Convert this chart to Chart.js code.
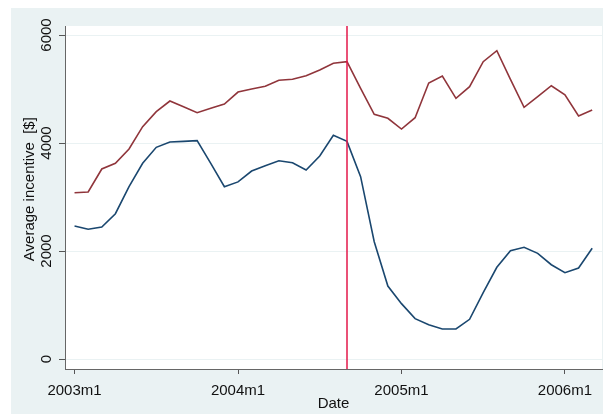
<!DOCTYPE html>
<html>
<head>
<meta charset="utf-8">
<script src="https://cdn.jsdelivr.net/npm/chart.js@4.4.1/dist/chart.umd.min.js"></script>
<style>
  html, body { margin: 0; padding: 0; background: #ffffff; }
  canvas { display: block; }
</style>
</head>
<body>
<canvas id="c" width="604" height="414"></canvas>
<script>
// Monthly periods, 2003m1 .. 2006m3
const months = [
  '2003m1','2003m2','2003m3','2003m4','2003m5','2003m6','2003m7','2003m8','2003m9','2003m10','2003m11','2003m12',
  '2004m1','2004m2','2004m3','2004m4','2004m5','2004m6','2004m7','2004m8','2004m9','2004m10','2004m11','2004m12',
  '2005m1','2005m2','2005m3','2005m4','2005m5','2005m6','2005m7','2005m8','2005m9','2005m10','2005m11','2005m12',
  '2006m1','2006m2','2006m3'
];

// Average incentive ($), upper series
const upperSeries = [
  3080, 3093, 3519, 3624, 3889, 4302, 4580, 4778, 4670, 4561, 4642, 4722,
  4944, 5000, 5050, 5161, 5180, 5246, 5352, 5476, 5506, 5013, 4531, 4457,
  4259, 4469, 5110, 5241, 4828, 5043, 5506, 5710, 5180, 4661, 4857, 5061,
  4894, 4500, 4611
];

// Average incentive ($), lower series
const lowerSeries = [
  2463, 2402, 2444, 2691, 3191, 3624, 3920, 4019, 4031, 4043, 3624, 3191,
  3280, 3481, 3580, 3672, 3635, 3500, 3759, 4143, 4031, 3376, 2172, 1352,
  1025, 748, 633, 556, 556, 735, 1228, 1698, 2006, 2069, 1957, 1746,
  1598, 1685, 2050
];

// Labelled x ticks and y ticks
const xTickLabels = ['2003m1', '2004m1', '2005m1', '2006m1'];
const yTickValues = [0, 2000, 4000, 6000];

// Month marked by the vertical reference line
const eventMonth = '2004m9';

const toPoints = arr => arr.map((v, i) => ({ x: i, y: v }));
const xTickValues = xTickLabels.map(l => months.indexOf(l));

const BG = '#EAF2F3';
const FONT = 'Liberation Sans, Arial, Helvetica, sans-serif';

const backgroundPlugin = {
  id: 'panels',
  beforeDraw(chart) {
    const { ctx, chartArea: a } = chart;
    ctx.save();
    ctx.fillStyle = BG;
    ctx.fillRect(11, 8, 592, 406);
    ctx.fillStyle = '#ffffff';
    ctx.fillRect(a.left, a.top, a.right - a.left, a.bottom - a.top);
    ctx.restore();
  }
};

const eventLinePlugin = {
  id: 'eventLine',
  afterDatasetsDraw(chart) {
    const { ctx, chartArea: a, scales } = chart;
    const x = Math.round(scales.x.getPixelForValue(months.indexOf(eventMonth)));
    ctx.save();
    ctx.strokeStyle = '#E3174A';
    ctx.lineWidth = 1.5;
    ctx.beginPath();
    ctx.moveTo(x, a.top);
    ctx.lineTo(x, a.bottom);
    ctx.stroke();
    ctx.restore();
  }
};

new Chart(document.getElementById('c'), {
  type: 'line',
  data: {
    datasets: [
      {
        data: toPoints(upperSeries),
        borderColor: '#90353B',
        borderWidth: 1.6,
        pointRadius: 0,
        tension: 0,
        fill: false
      },
      {
        data: toPoints(lowerSeries),
        borderColor: '#1A476F',
        borderWidth: 1.6,
        pointRadius: 0,
        tension: 0,
        fill: false
      }
    ]
  },
  options: {
    responsive: false,
    animation: false,
    events: [],
    layout: { padding: { left: 0, top: 26, right: 2, bottom: 0 } },
    plugins: { legend: { display: false }, tooltip: { enabled: false } },
    scales: {
      x: {
        type: 'linear',
        min: -0.7,
        max: 38.72,
        afterBuildTicks(scale) { scale.ticks = xTickValues.map(v => ({ value: v })); },
        afterFit(scale) { scale.height = 45; },
        ticks: {
          callback: (v) => xTickLabels[xTickValues.indexOf(v)],
          color: '#111111',
          font: { family: FONT, size: 15 },
          padding: 8,
          maxRotation: 0,
          autoSkip: false
        },
        grid: { drawOnChartArea: false, drawTicks: true, tickLength: 5, tickColor: '#555555', tickWidth: 1 },
        border: { display: true, color: '#666666', width: 1 },
        title: {
          display: true,
          text: 'Date',
          color: '#111111',
          font: { family: FONT, size: 15 },
          padding: { top: 0, bottom: 1 }
        }
      },
      y: {
        min: -185,
        max: 6167,
        afterBuildTicks(scale) { scale.ticks = yTickValues.map(v => ({ value: v })); },
        afterFit(scale) { scale.width = 65; },
        ticks: {
          callback: (v) => String(v),
          color: '#111111',
          font: { family: FONT, size: 15 },
          minRotation: 90,
          maxRotation: 90,
          crossAlign: 'center',
          padding: -5,
          autoSkip: false
        },
        grid: { color: BG, lineWidth: 1, drawTicks: true, tickLength: 6, tickColor: '#555555', tickWidth: 1 },
        border: { display: true, color: '#666666', width: 1 },
        title: {
          display: true,
          text: '    Average incentive  [$]',
          color: '#111111',
          font: { family: FONT, size: 15 },
          padding: { top: 21, bottom: 0 }
        }
      }
    }
  },
  plugins: [backgroundPlugin, eventLinePlugin]
});
</script>
</body>
</html>
